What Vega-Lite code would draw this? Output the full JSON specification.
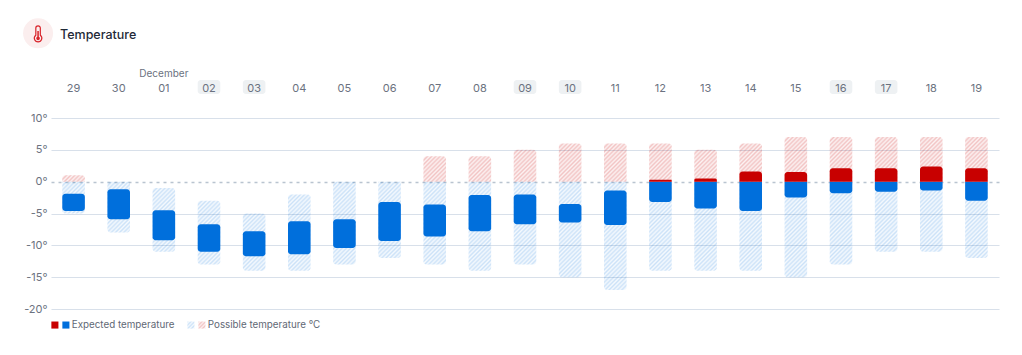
{
"$schema":"https://vega.github.io/schema/vega-lite/v6.json",
"width":948,"height":191,
"autosize":{"type":"none"},
"padding":{"left":51,"top":118,"right":23,"bottom":46},
"background":"white",
"title":{"text":"Temperature","anchor":"start","frame":"group","dx":9,"offset":0,"dy":23,"font":"Inter","fontSize":12.5,"fontWeight":500,"color":"#1f2937"},
"params":[
{"name":"blueStops","value":[{"offset":0,"color":"rgba(0,111,220,0.2)"},{"offset":0.0156,"color":"rgba(0,111,220,0.04)"},{"offset":0.0313,"color":"rgba(0,111,220,0.2)"},{"offset":0.0469,"color":"rgba(0,111,220,0.04)"},{"offset":0.0625,"color":"rgba(0,111,220,0.2)"},{"offset":0.0781,"color":"rgba(0,111,220,0.04)"},{"offset":0.0938,"color":"rgba(0,111,220,0.2)"},{"offset":0.1094,"color":"rgba(0,111,220,0.04)"},{"offset":0.125,"color":"rgba(0,111,220,0.2)"},{"offset":0.1406,"color":"rgba(0,111,220,0.04)"},{"offset":0.1563,"color":"rgba(0,111,220,0.2)"},{"offset":0.1719,"color":"rgba(0,111,220,0.04)"},{"offset":0.1875,"color":"rgba(0,111,220,0.2)"},{"offset":0.2031,"color":"rgba(0,111,220,0.04)"},{"offset":0.2188,"color":"rgba(0,111,220,0.2)"},{"offset":0.2344,"color":"rgba(0,111,220,0.04)"},{"offset":0.25,"color":"rgba(0,111,220,0.2)"},{"offset":0.2656,"color":"rgba(0,111,220,0.04)"},{"offset":0.2813,"color":"rgba(0,111,220,0.2)"},{"offset":0.2969,"color":"rgba(0,111,220,0.04)"},{"offset":0.3125,"color":"rgba(0,111,220,0.2)"},{"offset":0.3281,"color":"rgba(0,111,220,0.04)"},{"offset":0.3438,"color":"rgba(0,111,220,0.2)"},{"offset":0.3594,"color":"rgba(0,111,220,0.04)"},{"offset":0.375,"color":"rgba(0,111,220,0.2)"},{"offset":0.3906,"color":"rgba(0,111,220,0.04)"},{"offset":0.4063,"color":"rgba(0,111,220,0.2)"},{"offset":0.4219,"color":"rgba(0,111,220,0.04)"},{"offset":0.4375,"color":"rgba(0,111,220,0.2)"},{"offset":0.4531,"color":"rgba(0,111,220,0.04)"},{"offset":0.4688,"color":"rgba(0,111,220,0.2)"},{"offset":0.4844,"color":"rgba(0,111,220,0.04)"},{"offset":0.5,"color":"rgba(0,111,220,0.2)"},{"offset":0.5156,"color":"rgba(0,111,220,0.04)"},{"offset":0.5313,"color":"rgba(0,111,220,0.2)"},{"offset":0.5469,"color":"rgba(0,111,220,0.04)"},{"offset":0.5625,"color":"rgba(0,111,220,0.2)"},{"offset":0.5781,"color":"rgba(0,111,220,0.04)"},{"offset":0.5938,"color":"rgba(0,111,220,0.2)"},{"offset":0.6094,"color":"rgba(0,111,220,0.04)"},{"offset":0.625,"color":"rgba(0,111,220,0.2)"},{"offset":0.6406,"color":"rgba(0,111,220,0.04)"},{"offset":0.6563,"color":"rgba(0,111,220,0.2)"},{"offset":0.6719,"color":"rgba(0,111,220,0.04)"},{"offset":0.6875,"color":"rgba(0,111,220,0.2)"},{"offset":0.7031,"color":"rgba(0,111,220,0.04)"},{"offset":0.7188,"color":"rgba(0,111,220,0.2)"},{"offset":0.7344,"color":"rgba(0,111,220,0.04)"},{"offset":0.75,"color":"rgba(0,111,220,0.2)"},{"offset":0.7656,"color":"rgba(0,111,220,0.04)"},{"offset":0.7813,"color":"rgba(0,111,220,0.2)"},{"offset":0.7969,"color":"rgba(0,111,220,0.04)"},{"offset":0.8125,"color":"rgba(0,111,220,0.2)"},{"offset":0.8281,"color":"rgba(0,111,220,0.04)"},{"offset":0.8438,"color":"rgba(0,111,220,0.2)"},{"offset":0.8594,"color":"rgba(0,111,220,0.04)"},{"offset":0.875,"color":"rgba(0,111,220,0.2)"},{"offset":0.8906,"color":"rgba(0,111,220,0.04)"},{"offset":0.9063,"color":"rgba(0,111,220,0.2)"},{"offset":0.9219,"color":"rgba(0,111,220,0.04)"},{"offset":0.9375,"color":"rgba(0,111,220,0.2)"},{"offset":0.9531,"color":"rgba(0,111,220,0.04)"},{"offset":0.9688,"color":"rgba(0,111,220,0.2)"},{"offset":0.9844,"color":"rgba(0,111,220,0.04)"},{"offset":1,"color":"rgba(0,111,220,0.2)"}]},
{"name":"redStops","value":[{"offset":0,"color":"rgba(200,0,0,0.23)"},{"offset":0.0313,"color":"rgba(200,0,0,0.05)"},{"offset":0.0625,"color":"rgba(200,0,0,0.23)"},{"offset":0.0938,"color":"rgba(200,0,0,0.05)"},{"offset":0.125,"color":"rgba(200,0,0,0.23)"},{"offset":0.1563,"color":"rgba(200,0,0,0.05)"},{"offset":0.1875,"color":"rgba(200,0,0,0.23)"},{"offset":0.2188,"color":"rgba(200,0,0,0.05)"},{"offset":0.25,"color":"rgba(200,0,0,0.23)"},{"offset":0.2813,"color":"rgba(200,0,0,0.05)"},{"offset":0.3125,"color":"rgba(200,0,0,0.23)"},{"offset":0.3438,"color":"rgba(200,0,0,0.05)"},{"offset":0.375,"color":"rgba(200,0,0,0.23)"},{"offset":0.4063,"color":"rgba(200,0,0,0.05)"},{"offset":0.4375,"color":"rgba(200,0,0,0.23)"},{"offset":0.4688,"color":"rgba(200,0,0,0.05)"},{"offset":0.5,"color":"rgba(200,0,0,0.23)"},{"offset":0.5313,"color":"rgba(200,0,0,0.05)"},{"offset":0.5625,"color":"rgba(200,0,0,0.23)"},{"offset":0.5938,"color":"rgba(200,0,0,0.05)"},{"offset":0.625,"color":"rgba(200,0,0,0.23)"},{"offset":0.6563,"color":"rgba(200,0,0,0.05)"},{"offset":0.6875,"color":"rgba(200,0,0,0.23)"},{"offset":0.7188,"color":"rgba(200,0,0,0.05)"},{"offset":0.75,"color":"rgba(200,0,0,0.23)"},{"offset":0.7813,"color":"rgba(200,0,0,0.05)"},{"offset":0.8125,"color":"rgba(200,0,0,0.23)"},{"offset":0.8438,"color":"rgba(200,0,0,0.05)"},{"offset":0.875,"color":"rgba(200,0,0,0.23)"},{"offset":0.9063,"color":"rgba(200,0,0,0.05)"},{"offset":0.9375,"color":"rgba(200,0,0,0.23)"},{"offset":0.9688,"color":"rgba(200,0,0,0.05)"},{"offset":1,"color":"rgba(200,0,0,0.23)"}]}
],
"datasets":{
"possible":[
{"day":"29","low":-5,"high":0},{"day":"29","low":0,"high":1},
{"day":"30","low":-8,"high":0},
{"day":"01","low":-11,"high":-1},
{"day":"02","low":-13,"high":-3},
{"day":"03","low":-14,"high":-5},
{"day":"04","low":-14,"high":-2},
{"day":"05","low":-13,"high":0},
{"day":"06","low":-12,"high":0},
{"day":"07","low":-13,"high":0},{"day":"07","low":0,"high":4},
{"day":"08","low":-14,"high":0},{"day":"08","low":0,"high":4},
{"day":"09","low":-13,"high":0},{"day":"09","low":0,"high":5},
{"day":"10","low":-15,"high":0},{"day":"10","low":0,"high":6},
{"day":"11","low":-17,"high":0},{"day":"11","low":0,"high":6},
{"day":"12","low":-14,"high":0},{"day":"12","low":0,"high":6},
{"day":"13","low":-14,"high":0},{"day":"13","low":0,"high":5},
{"day":"14","low":-14,"high":0},{"day":"14","low":0,"high":6},
{"day":"15","low":-15,"high":0},{"day":"15","low":0,"high":7},
{"day":"16","low":-13,"high":0},{"day":"16","low":0,"high":7},
{"day":"17","low":-11,"high":0},{"day":"17","low":0,"high":7},
{"day":"18","low":-11,"high":0},{"day":"18","low":0,"high":7},
{"day":"19","low":-12,"high":0},{"day":"19","low":0,"high":7}],
"expected":[
{"day":"29","low":-4.6,"high":-1.9},
{"day":"30","low":-5.9,"high":-1.2},
{"day":"01","low":-9.2,"high":-4.5},
{"day":"02","low":-11,"high":-6.7},
{"day":"03","low":-11.7,"high":-7.8},
{"day":"04","low":-11.4,"high":-6.2},
{"day":"05","low":-10.4,"high":-5.9},
{"day":"06","low":-9.3,"high":-3.2},
{"day":"07","low":-8.6,"high":-3.6},
{"day":"08","low":-7.8,"high":-2.1},
{"day":"09","low":-6.7,"high":-2},
{"day":"10","low":-6.4,"high":-3.5},
{"day":"11","low":-6.8,"high":-1.4},
{"day":"12","low":-3.2,"high":0},{"day":"12","low":0,"high":0.3},
{"day":"13","low":-4.2,"high":0},{"day":"13","low":0,"high":0.5},
{"day":"14","low":-4.6,"high":0},{"day":"14","low":0,"high":1.6},
{"day":"15","low":-2.5,"high":0},{"day":"15","low":0,"high":1.5},
{"day":"16","low":-1.8,"high":0},{"day":"16","low":0,"high":2.1},
{"day":"17","low":-1.6,"high":0},{"day":"17","low":0,"high":2.1},
{"day":"18","low":-1.4,"high":0},{"day":"18","low":0,"high":2.4},
{"day":"19","low":-3,"high":0},{"day":"19","low":0,"high":2.1}],
"weekend":[{"day":"02"},{"day":"03"},{"day":"09"},{"day":"10"},{"day":"16"},{"day":"17"}]
},
"encoding":{
"x":{"field":"day","type":"ordinal","title":null,
"scale":{"domain":["29","30","01","02","03","04","05","06","07","08","09","10","11","12","13","14","15","16","17","18","19"],"paddingInner":0.5,"paddingOuter":0.25},
"axis":{"orient":"top","domain":false,"ticks":false,"labelAngle":0,"labelPadding":25,"labelFont":"Inter","labelFontSize":11,"labelColor":"#6b7280","zindex":1,"grid":false}}
},
"layer":[
{"data":{"name":"possible"},"transform":[{"filter":"datum.low<0"}],
"mark":{"type":"bar","cornerRadiusTopLeft":{"expr":"datum.high!=0?3:0"},"cornerRadiusTopRight":{"expr":"datum.high!=0?3:0"},"cornerRadiusBottomLeft":3,"cornerRadiusBottomRight":3},
"encoding":{
"y":{"field":"low","type":"quantitative","title":null,"scale":{"domain":[-20,10],"nice":false},
"axis":{"values":[-20,-15,-10,-5,0,5,10],"tickCount":7,"domain":false,"ticks":false,"labelPadding":4,"labelOverlap":false,"labelFont":"Inter","labelFontSize":11,"labelColor":"#6b7280","labelExpr":"datum.value+'°'","grid":true,"gridColor":{"condition":{"test":"datum.value===0","value":"#b9c4d0"},"value":"#d8e0ea"},"gridWidth":{"condition":{"test":"datum.value===0","value":1.5},"value":1.2},"gridDash":{"condition":{"test":"datum.value===0","value":[3,4]},"value":[]}}},
"y2":{"field":"high"},
"fill":{"value":{"expr":"{gradient:'linear',x1:0,y1:0,x2:22.57*134.4/(509.4+pow((datum.high-datum.low)*6.367,2)),y2:(datum.high-datum.low)*6.367*134.4/(509.4+pow((datum.high-datum.low)*6.367,2)),stops:blueStops}"}}
}},
{"data":{"name":"possible"},"transform":[{"filter":"datum.low>=0"}],
"mark":{"type":"bar","cornerRadiusTopLeft":3,"cornerRadiusTopRight":3},
"encoding":{
"y":{"field":"low","type":"quantitative"},
"y2":{"field":"high"},
"fill":{"value":{"expr":"{gradient:'linear',x1:0,y1:0,x2:22.57*67.2/(509.4+pow((datum.high-datum.low)*6.367,2)),y2:(datum.high-datum.low)*6.367*67.2/(509.4+pow((datum.high-datum.low)*6.367,2)),stops:redStops}"}}
}},
{"data":{"name":"expected"},
"transform":[{"calculate":"datum.low<0?'Expected temperature':'Expected warm'","as":"series"}],
"mark":{"type":"bar","cornerRadiusTopLeft":{"expr":"datum.high!=0?3:0"},"cornerRadiusTopRight":{"expr":"datum.high!=0?3:0"},"cornerRadiusBottomLeft":{"expr":"datum.low!=0?3:0"},"cornerRadiusBottomRight":{"expr":"datum.low!=0?3:0"}},
"encoding":{
"y":{"field":"low","type":"quantitative"},
"y2":{"field":"high"},
"color":{"field":"series","type":"nominal",
"scale":{"domain":["Expected warm","Expected temperature","Gap","Possible cold","Possible temperature °C"],
"range":["#c80000","#006fdc","transparent",{"expr":"{gradient:'linear',x1:0,y1:0,x2:8.4,y2:8.4,stops:blueStops}"},{"expr":"{gradient:'linear',x1:0,y1:0,x2:4.2,y2:4.2,stops:redStops}"}]},
"legend":{"orient":"none","legendX":-1,"legendY":202,"direction":"horizontal","columns":5,"title":null,"symbolType":"square","symbolSize":50,"symbolStrokeWidth":0,"labelFont":"Inter","labelFontSize":9.8,"labelColor":"#5f6875","labelOffset":1,"columnPadding":-5,"padding":0,"labelExpr":"datum.label=='Expected warm'||datum.label=='Possible cold'||datum.label=='Gap'?'':datum.label"}}
}},
{"data":{"name":"weekend"},
"mark":{"type":"bar","fill":"#eef1f3","cornerRadius":3},
"encoding":{"y":{"datum":15.97},"y2":{"datum":13.77}}},
{"data":{"values":[{"text":"December"}]},
"mark":{"type":"text","font":"Inter","fontSize":10,"fill":"#6b7280"},
"encoding":{"x":{"datum":"01"},"y":{"datum":16.85},"text":{"field":"text"}}},
{"data":{"values":[{"icon":"badge"}]},
"mark":{"type":"point","shape":"circle","size":900,"filled":true,"fill":"#fbeeee","opacity":1,"xOffset":-35.5},
"encoding":{"x":{"datum":"29"},"y":{"datum":23.3}}},
{"data":{"values":[{"icon":"tube"}]},
"mark":{"type":"point","shape":"M-0.3 0.25V-0.7A0.3 0.3 0 0 1 0.3 -0.7V0.25A0.5 0.5 0 1 1 -0.3 0.25Z","size":225,"filled":false,"stroke":"#d8232a","strokeWidth":1.2,"opacity":1,"xOffset":-35.5},
"encoding":{"x":{"datum":"29"},"y":{"datum":23.3}}},
{"data":{"values":[{"icon":"mercury"}]},
"mark":{"type":"point","shape":"M-0.1 0.45V-0.3H0.1V0.45A0.24 0.24 0 1 1 -0.1 0.45Z","size":225,"filled":true,"fill":"#d8232a","opacity":1,"xOffset":-35.5},
"encoding":{"x":{"datum":"29"},"y":{"datum":23.3}}}
],
"config":{"view":{"stroke":null},"style":{"guide-label":{"font":"Inter"}}}
}
